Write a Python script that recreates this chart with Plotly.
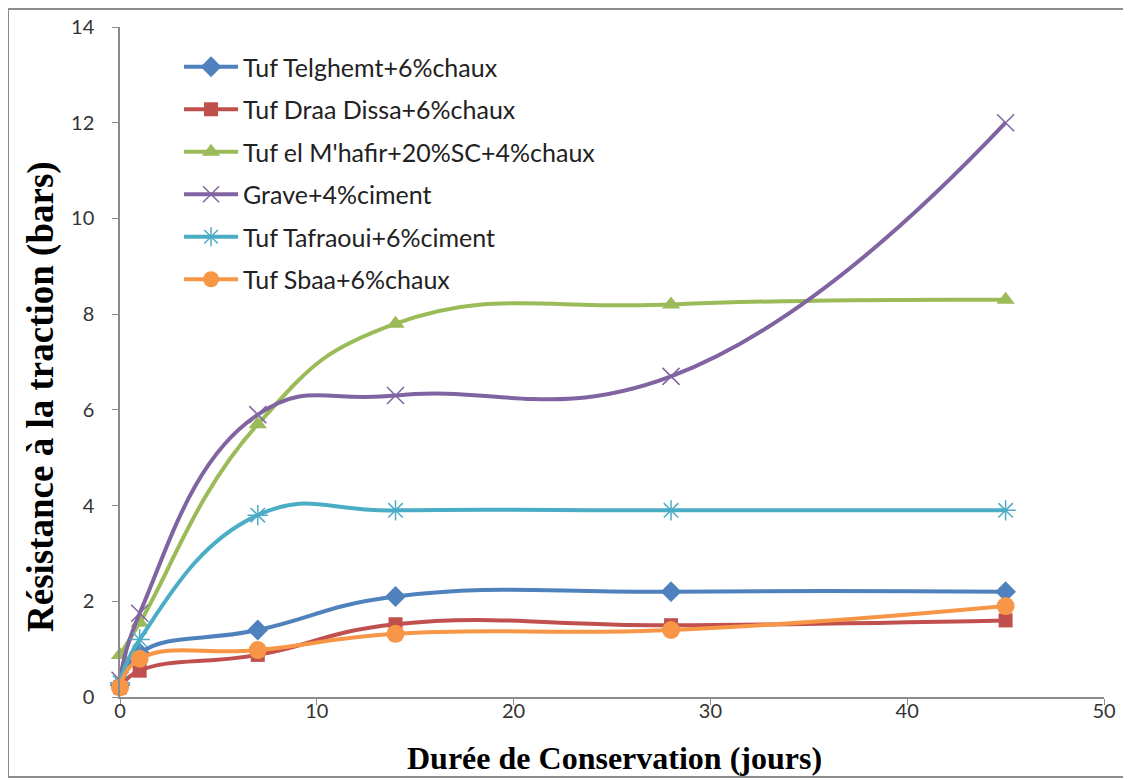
import plotly.graph_objects as go

days = [0, 1, 7, 14, 28, 45]
telghemt = [0.25, 0.92, 1.4, 2.1, 2.2, 2.2]
draa_dissa = [0.2, 0.55, 0.88, 1.52, 1.5, 1.6]
mhafir = [0.88, 1.55, 5.7, 7.8, 8.2, 8.3]
grave = [0.35, 1.75, 5.9, 6.3, 6.7, 12.0]
tafraoui = [0.3, 1.2, 3.8, 3.9, 3.9, 3.9]
sbaa = [0.2, 0.8, 0.98, 1.32, 1.4, 1.9]

names = [
    "Tuf Telghemt+6%chaux",
    "Tuf Draa Dissa+6%chaux",
    "Tuf el M'hafir+20%SC+4%chaux",
    "Grave+4%ciment",
    "Tuf Tafraoui+6%ciment",
    "Tuf Sbaa+6%chaux",
]
series = [telghemt, draa_dissa, mhafir, grave, tafraoui, sbaa]
colors = ["#4F81BD", "#C0504D", "#9BBB59", "#8064A2", "#4BACC6", "#F79646"]
symbols = ["diamond", "square", "triangle-up", "x-thin-open", "asterisk-open", "circle"]
msizes = [16, 14, 16, 17, 17, 18]
mline_colors = [None, None, None, "#A99BC6", "#6FC3DA", None]

# the page body has an 8px margin, so the figure is drawn from (8, 8)
W, H = 1123, 772
L, T = 112, 19
PW, PH = 984, 670
R = W - L - PW
B = H - T - PH

fig = go.Figure()
for i, (nm, ys) in enumerate(zip(names, series)):
    marker = dict(symbol=symbols[i], size=msizes[i], color=colors[i])
    if mline_colors[i]:
        marker["line"] = dict(color=mline_colors[i], width=1.5)
    else:
        marker["line"] = dict(width=0)
    fig.add_trace(go.Scatter(
        x=days, y=ys, name=nm, mode="lines+markers",
        line=dict(color=colors[i], width=4, shape="spline", smoothing=1.3),
        marker=marker, legendgroup=f"g{i}", cliponaxis=False,
    ))

serif = "Liberation Serif, 'Times New Roman', serif"
fig.update_layout(
    width=W, height=H,
    margin=dict(l=L, r=R, t=T, b=B, autoexpand=False),
    paper_bgcolor="white", plot_bgcolor="white",
    font=dict(family="Lato, 'Open Sans', sans-serif", color="#222"),
    showlegend=True,
    legend=dict(
        x=0.060, y=0.9746, xanchor="left", yanchor="top",
        font=dict(family="Lato, sans-serif", size=25, color="#222"),
        bgcolor="rgba(0,0,0,0)", tracegroupgap=7, itemwidth=54,
    ),
    xaxis=dict(
        range=[0, 50], tickvals=[0, 10, 20, 30, 40, 50], automargin=False,
        showgrid=False, zeroline=False, showline=True, linecolor="#8C8C8C", linewidth=1.5,
        ticks="outside", ticklen=6, tickcolor="#8C8C8C",
        tickfont=dict(family="Lato, sans-serif", size=20, color="#333"),
        ticklabelstandoff=-11,
    ),
    yaxis=dict(
        range=[0, 14], tickvals=[0, 2, 4, 6, 8, 10, 12, 14], automargin=False,
        showgrid=False, zeroline=False, showline=True, linecolor="#8C8C8C", linewidth=1.5,
        ticks="outside", ticklen=6, tickcolor="#8C8C8C",
        tickfont=dict(family="Lato, sans-serif", size=20, color="#333"),
        ticklabelstandoff=14,
    ),
    annotations=[
        dict(text="<b>Durée de Conservation (jours)</b>", xref="paper", yref="paper",
             x=(614 - 8 - L) / PW, y=(T + PH - (758 - 8)) / PH,
             xanchor="center", yanchor="middle", showarrow=False,
             font=dict(family=serif, size=32, color="#000")),
        dict(text="<b>Résistance à la traction (bars)</b>", xref="paper", yref="paper",
             x=(41 - 8 - L) / PW, y=(T + PH - (397 - 8)) / PH, textangle=-90,
             xanchor="center", yanchor="middle", showarrow=False,
             font=dict(family=serif, size=37, color="#000")),
    ],
    shapes=[dict(type="rect", xref="paper", yref="paper",
                 x0=(0 - L) / PW, x1=(1118 - L) / PW,
                 y0=(T + PH - 769) / PH, y1=(T + PH - 1) / PH,
                 line=dict(color="#8C8C8C", width=2), fillcolor="rgba(0,0,0,0)", layer="below")],
)

fig.write_html("out.html")
